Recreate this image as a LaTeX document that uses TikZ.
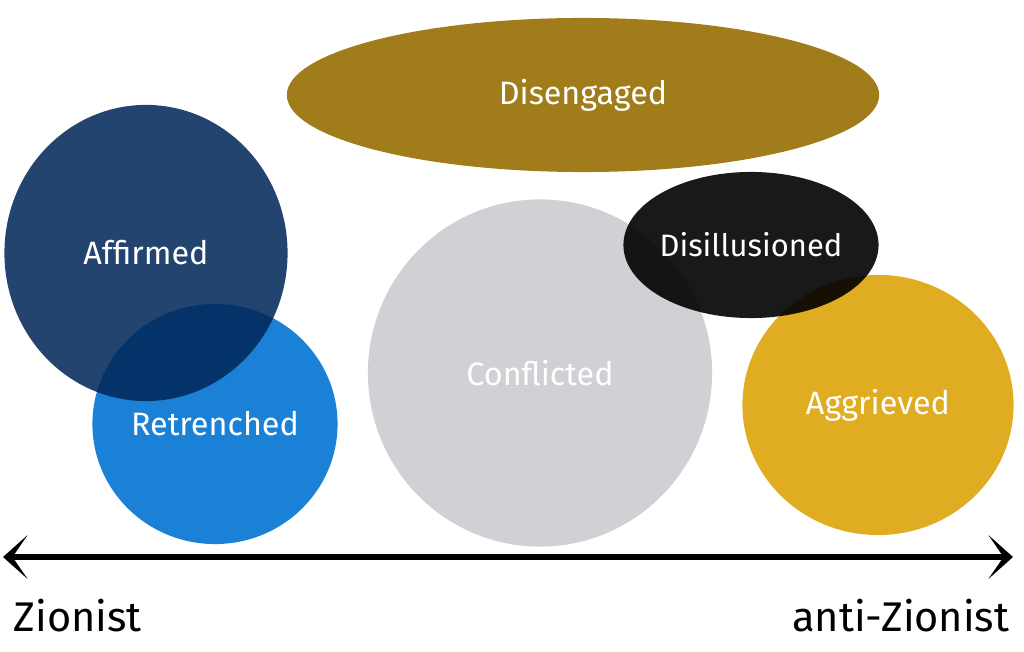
\documentclass[tikz,border=0pt]{standalone}
\usepackage{fontspec}
\setmainfont{Fira Sans}
\usepackage{tikz}
\usetikzlibrary{shapes.geometric, arrows.meta, positioning}
\definecolor{disgold}{RGB}{161,124,26}
\definecolor{affnavy}{RGB}{1,40,90}
\definecolor{retblue}{RGB}{27,129,214}
\definecolor{congrey}{RGB}{209,208,213}
\definecolor{agggold}{RGB}{224,172,34}

\begin{document}
\begin{tikzpicture}[x=0.01cm, y=-0.01cm,
		group/.style={ellipse, inner sep=-1cm, text=white, font=\fontsize{9.2}{11}\selectfont},
		axislabel/.style={font=\fontsize{11.8}{14}\selectfont},
		>={Stealth[length=7pt, width=12.5pt, inset=4.3pt]}]
			\useasboundingbox (0,0) rectangle (1024,652);
			%% groups
			\node[group, fill=disgold, minimum width=5.92cm, minimum height=1.54cm] (disengaged) at (583,95) {Disengaged};
			\node[group, fill=retblue, minimum width=2.45cm, minimum height=2.40cm] (retrenched) at (215,424) {Retrenched};
			\node[group, fill=affnavy, fill opacity=0.87, text opacity=1, minimum width=2.83cm, minimum height=2.96cm] (affirmed) at (146,253) {Affirmed};
			\node[group, fill=congrey, minimum width=3.44cm, minimum height=3.47cm] (conflicted) at (540,373) {Conflicted};
			\node[group, fill=agggold, minimum width=2.71cm, minimum height=2.60cm] (aggrieved) at (878,405) {Aggrieved};
			\node[group, fill=black, fill opacity=0.9, text opacity=1, minimum width=2.55cm, minimum height=1.46cm, font=\fontsize{8.8}{11}\selectfont] (disillusioned) at (751,245) {Disillusioned};
			
			%% axis
			\coordinate (zleft) at (3,557);
			\coordinate (zright) at (1013,557);
			\draw[<->, line width=1.5pt] (zleft) -- (zright);
			\node[axislabel, anchor=base west, inner sep=0pt] (zionist) at (13,632) {Zionist};
			\node[axislabel, anchor=base east, inner sep=0pt] (antizionist) at (1010,632) {anti-Zionist};
\end{tikzpicture}
\end{document}
